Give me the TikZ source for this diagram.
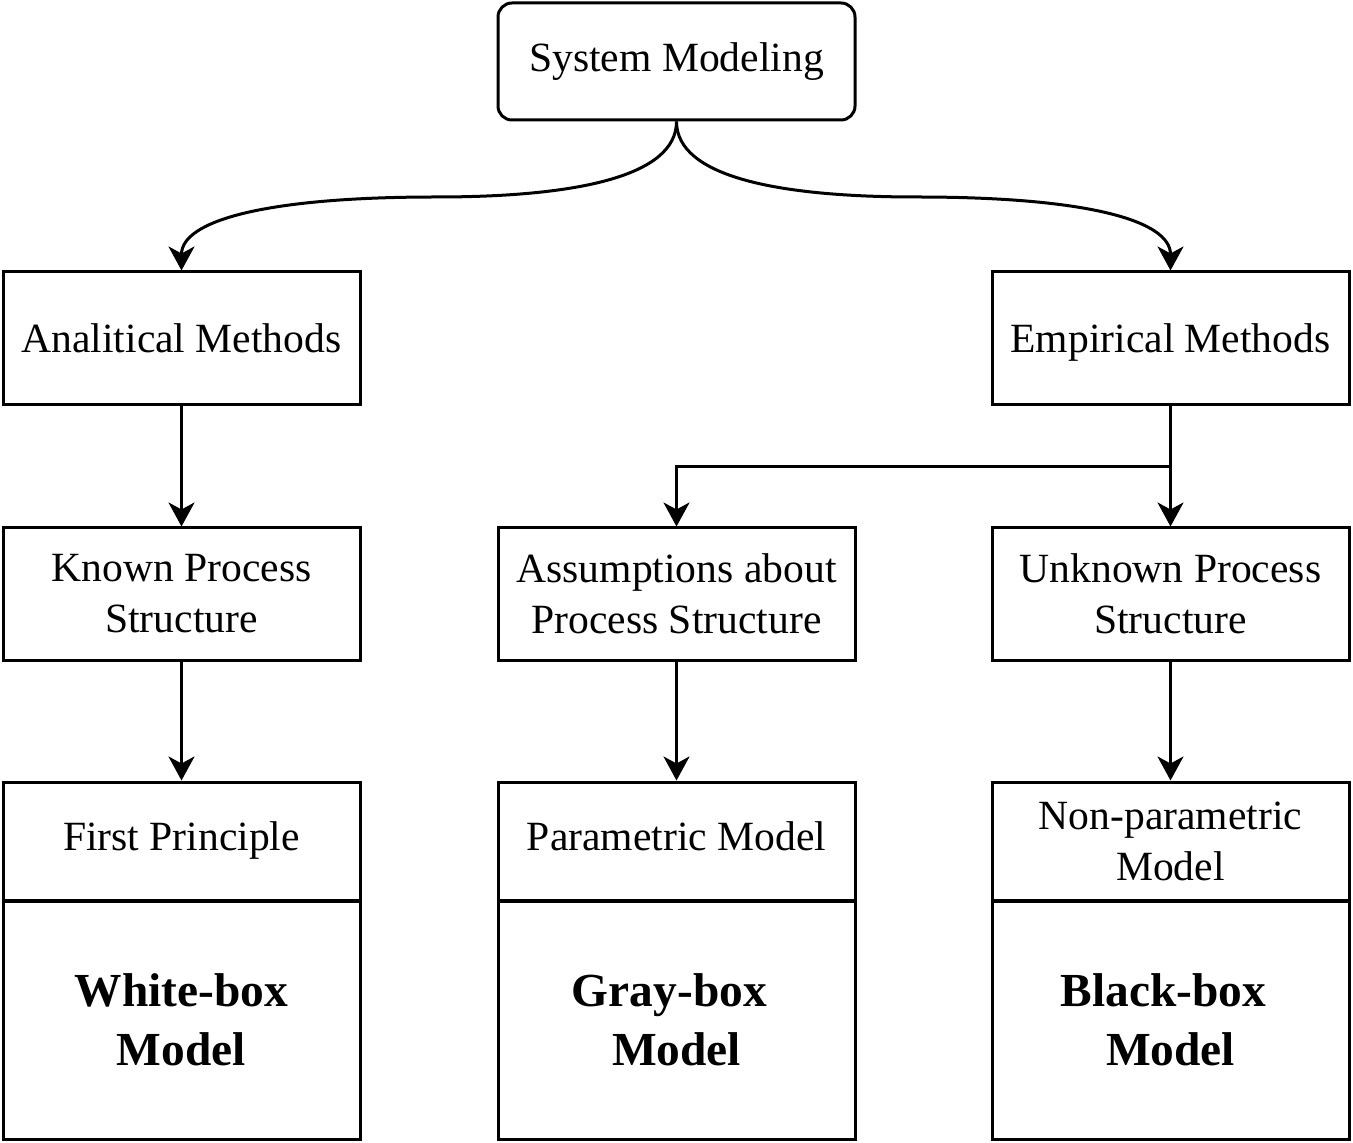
\documentclass[tikz,border=0pt]{standalone}
\usepackage{fontspec}
\setmainfont{Liberation Serif}
\usetikzlibrary{arrows.meta}

\begin{document}
\begin{tikzpicture}[x=0.5pt,y=-0.5pt,
    box/.style={draw, line width=1.5pt, minimum width=178.5pt, align=center,
        font=\fontsize{20.8pt}{25.5pt}\selectfont},
    big/.style={box, minimum height=119pt,
        font=\fontsize{23.7pt}{29.5pt}\selectfont\bfseries},
    arr/.style={line width=1.5pt, -{Stealth[length=12pt,width=13pt,inset=3.5pt]}}]
    \useasboundingbox (0,0) rectangle (1353,1143);
    % top
    \node [box, rounded corners=7pt, minimum height=58.5pt] (sm) at (676.5,61.5) {System Modeling};
    % methods
    \node [box, minimum height=66.5pt, text depth=0pt] (am) at (181.5,338.5) {Analitical Methods};
    \node [box, minimum height=66.5pt, text depth=0pt] (em) at (1170.5,338.5) {Empirical Methods};
    % process structure
    \node [box, minimum height=66pt] (kp) at (181.5,594) {Known Process\\Structure};
    \node [box, minimum height=66pt] (ap) at (676.5,594) {Assumptions about\\Process Structure};
    \node [box, minimum height=66pt] (up) at (1170.5,594) {Unknown Process\\Structure};
    % models
    \node [box, minimum height=59pt, text depth=4.5pt] (fp) at (181.5,841) {First Principle};
    \node [box, minimum height=59pt, text depth=4.5pt] (pm) at (676.5,841) {Parametric Model};
    \node [box, minimum height=59pt] (nm) at (1170.5,841) {Non-parametric\\Model};
    \node [big] (wb) at (181.5,1020) {White-box\\Model};
    \node [big] (gb) at (676.5,1020) {Gray-box\kern0.3em\\Model};
    \node [big] (bb) at (1170.5,1020) {Black-box\kern0.3em\\Model};
    % connectors
    \coordinate (lbend) at (436,197);
    \coordinate (rbend) at (917,197);
    \draw [arr] (sm.south) .. controls +(0,55) and +(140,0) .. (lbend)
        .. controls +(-170,0) and +(0,-50) .. (am.north);
    \draw [arr] (sm.south) .. controls +(0,55) and +(-140,0) .. (rbend)
        .. controls +(170,0) and +(0,-50) .. (em.north);
    \draw [arr] (am) -- (kp);
    \draw [arr] (em.south) -- ++(0,60) -| (ap.north);
    \draw [arr] (em) -- (up);
    \draw [arr] (kp) -- (fp);
    \draw [arr] (ap) -- (pm);
    \draw [arr] (up) -- (nm);
\end{tikzpicture}
\end{document}
